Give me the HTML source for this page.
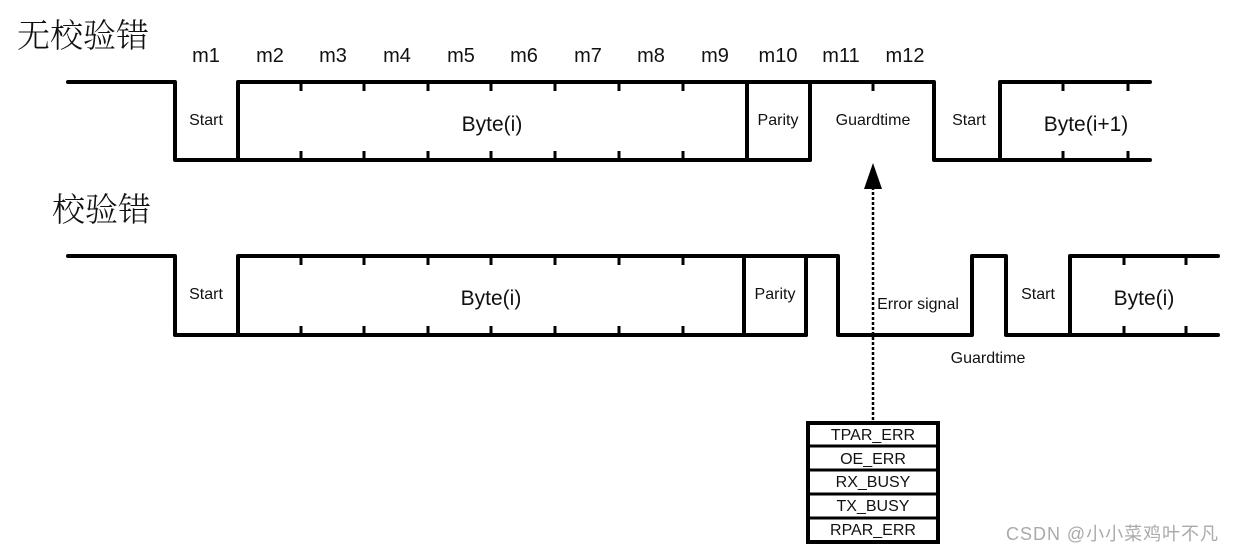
<!DOCTYPE html>
<html><head><meta charset="utf-8"><style>
body{margin:0;background:#fff;width:1234px;height:552px;overflow:hidden}
text{font-family:"Liberation Sans","DejaVu Sans",sans-serif;fill:#111}
</style></head><body>
<svg width="1234" height="552" viewBox="0 0 1234 552">
<text x="17" y="47" font-size="33" font-weight="300" style="font-family:'Noto Serif CJK SC','Noto Sans CJK SC',serif">无校验错</text>
<text x="52" y="221" font-size="33" font-weight="300" style="font-family:'Noto Serif CJK SC','Noto Sans CJK SC',serif">校验错</text>
<g font-size="20" text-anchor="middle">
<text x="206" y="62">m1</text><text x="270" y="62">m2</text><text x="333" y="62">m3</text><text x="397" y="62">m4</text><text x="461" y="62">m5</text><text x="524" y="62">m6</text><text x="588" y="62">m7</text><text x="651" y="62">m8</text><text x="715" y="62">m9</text><text x="778" y="62">m10</text><text x="841" y="62">m11</text><text x="905" y="62">m12</text>
</g>
<g stroke="#000" stroke-width="4" fill="none" stroke-linecap="round" stroke-linejoin="round">
<polyline points="68,82 175,82 175,160 810,160"/>
<polyline points="238,160 238,82 934,82 934,160 1000,160 1000,82 1150,82"/>
<line x1="1000" y1="160" x2="1150" y2="160"/>
<line x1="747" y1="82" x2="747" y2="160"/>
<line x1="810" y1="82" x2="810" y2="160"/>
<polyline points="68,256 175,256 175,335 806,335"/>
<polyline points="238,335 238,256 838,256 838,335 972,335 972,256 1006,256 1006,335 1070,335 1070,256 1218,256"/>
<line x1="1070" y1="335" x2="1218" y2="335"/>
<line x1="744" y1="256" x2="744" y2="335"/>
<line x1="806" y1="256" x2="806" y2="335"/>
</g>
<g stroke="#000" stroke-width="3">
<path d="M301 82v9M364 82v9M428 82v9M491 82v9M555 82v9M619 82v9M683 82v9M873 82v9M1063 82v9M1128 82v9
M301 160v-9M364 160v-9M428 160v-9M491 160v-9M555 160v-9M619 160v-9M683 160v-9M1063 160v-9M1128 160v-9
M301 256v9M364 256v9M428 256v9M491 256v9M555 256v9M619 256v9M683 256v9M1124 256v9M1186 256v9
M301 335v-9M364 335v-9M428 335v-9M491 335v-9M555 335v-9M619 335v-9M683 335v-9M1124 335v-9M1186 335v-9"/>
</g>
<line x1="873" y1="420" x2="873" y2="188" stroke="#000" stroke-width="2.5" stroke-dasharray="3,2"/>
<polygon points="873,163 864,189 882,189" fill="#000"/>
<g font-size="16" text-anchor="middle">
<text x="206" y="125">Start</text><text x="778" y="125">Parity</text><text x="873" y="125">Guardtime</text><text x="969" y="125">Start</text>
<text x="206" y="299">Start</text><text x="775" y="299">Parity</text><text x="918" y="309">Error signal</text><text x="988" y="363">Guardtime</text><text x="1038" y="299">Start</text>
</g>
<g font-size="21" text-anchor="middle">
<text x="492" y="131">Byte(i)</text><text x="1086" y="131">Byte(i+1)</text>
<text x="491" y="305">Byte(i)</text><text x="1144" y="305">Byte(i)</text>
</g>
<rect x="808" y="423" width="130" height="119" stroke="#000" stroke-width="4" fill="#fff"/>
<g stroke="#000" stroke-width="3">
<line x1="808" y1="446" x2="938" y2="446"/><line x1="808" y1="470" x2="938" y2="470"/><line x1="808" y1="494" x2="938" y2="494"/><line x1="808" y1="518" x2="938" y2="518"/>
</g>
<g font-size="16" text-anchor="middle">
<text x="873" y="440">TPAR_ERR</text><text x="873" y="464">OE_ERR</text><text x="873" y="487">RX_BUSY</text><text x="873" y="511">TX_BUSY</text><text x="873" y="535">RPAR_ERR</text>
</g>
<text x="1006" y="540" font-size="18" textLength="212" style="fill:#aaa;font-family:'Liberation Sans','Noto Sans CJK SC',sans-serif">CSDN @小小菜鸡叶不凡</text>
</svg>
</body></html>
